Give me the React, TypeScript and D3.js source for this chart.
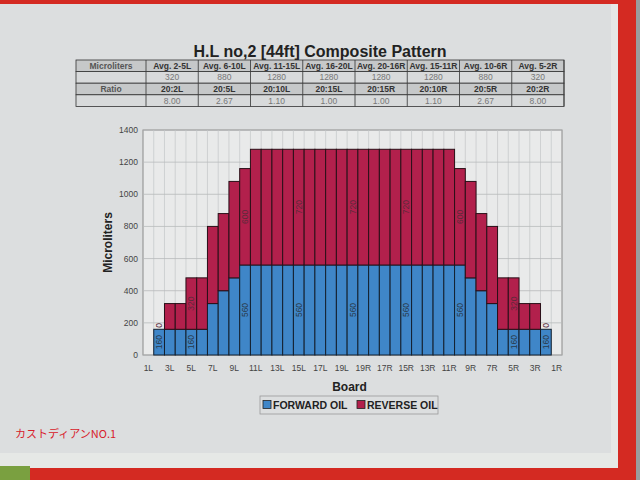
import React from "react";
import * as d3 from "d3";

const boards = [
  "1L","2L","3L","4L","5L","6L","7L","8L","9L","10L",
  "11L","12L","13L","14L","15L","16L","17L","18L","19L","20",
  "19R","18R","17R","16R","15R","14R","13R","12R","11R","10R",
  "9R","8R","7R","6R","5R","4R","3R","2R","1R",
];
const forwardOil = [
  0,160,160,160,160,160,320,400,480,560,
  560,560,560,560,560,560,560,560,560,560,
  560,560,560,560,560,560,560,560,560,560,
  480,400,320,160,160,160,160,160,0,
];
const reverseOil = [
  0,0,160,160,320,320,480,480,600,600,
  720,720,720,720,720,720,720,720,720,720,
  720,720,720,720,720,720,720,720,720,600,
  600,480,480,320,320,160,160,0,0,
];
const labelledBoards = ["2L","5L","10L","15L","20","15R","10R","5R","2R"];
const tickBoards = ["1L","3L","5L","7L","9L","11L","13L","15L","17L","19L","19R","17R","15R","13R","11R","9R","7R","5R","3R","1R"];
const yTicks = [0,200,400,600,800,1000,1200,1400];

const tableHeads = ["Avg. 2-5L","Avg. 6-10L","Avg. 11-15L","Avg. 16-20L","Avg. 20-16R","Avg. 15-11R","Avg. 10-6R","Avg. 5-2R"];
const tableMicro = ["320","880","1280","1280","1280","1280","880","320"];
const tableRatioHeads = ["20:2L","20:5L","20:10L","20:15L","20:15R","20:10R","20:5R","20:2R"];
const tableRatio = ["8.00","2.67","1.10","1.00","1.00","1.10","2.67","8.00"];

const BLUE = "#3f86c8";
const RED = "#b2204c";
const FONT = "Liberation Sans, Arial, sans-serif";

export default function App() {
  const left = 143, right = 562, top = 130, bottom = 355;
  const x = d3.scaleBand<string>().domain(boards).range([left, right]).padding(0);
  const y = d3.scaleLinear().domain([0, 1400]).range([bottom, top]);
  const bw = x.bandwidth();

  const tX0 = 76, tCol0 = 146, tX1 = 564, tY0 = 60, rowH = 11.6;
  const colW = (tX1 - tCol0) / tableHeads.length;
  const rows = [
    { label: "Microliters", cells: tableHeads, head: true },
    { label: "", cells: tableMicro, head: false },
    { label: "Ratio", cells: tableRatioHeads, head: true },
    { label: "", cells: tableRatio, head: false },
  ];

  return (
    <svg width={640} height={480} style={{ position: "absolute", left: 0, top: 0 }} fontFamily={FONT}>
      {/* photo frame */}
      <rect x={0} y={0} width={640} height={480} fill="#9a9c9e" />
      <rect x={0} y={0} width={636} height={480} fill="#d42a22" />
      <rect x={0} y={4} width={618} height={464} fill="#e6e8e6" />
      <rect x={0} y={4} width={611} height={449} fill="#dcdedf" />
      <rect x={0} y={466} width={30} height={14} fill="#7aa040" />

      {/* title */}
      <text x={320} y={57} textAnchor="middle" fontSize={16} fontWeight="bold" fill="#222">
        H.L no,2 [44ft] Composite Pattern
      </text>

      {/* table */}
      {rows.map((r, ri) => (
        <g key={ri}>
          <rect x={tX0} y={tY0 + ri * rowH} width={tX1 - tX0} height={rowH}
            fill={r.head ? "#c6c8c9" : "#d8dadb"} stroke="#333" strokeWidth={0.8} />
          <line x1={tCol0} x2={tCol0} y1={tY0 + ri * rowH} y2={tY0 + (ri + 1) * rowH} stroke="#333" strokeWidth={0.8} />
          <text x={(tX0 + tCol0) / 2} y={tY0 + ri * rowH + 8.6} textAnchor="middle" fontSize={8.5}
            fontWeight="bold" fill="#555">{r.label}</text>
          {r.cells.map((c, ci) => (
            <g key={ci}>
              <line x1={tCol0 + (ci + 1) * colW} x2={tCol0 + (ci + 1) * colW}
                y1={tY0 + ri * rowH} y2={tY0 + (ri + 1) * rowH} stroke="#333" strokeWidth={0.8} />
              <text x={tCol0 + (ci + 0.5) * colW} y={tY0 + ri * rowH + 8.8} textAnchor="middle"
                fontSize={8.5} fontWeight={r.head ? "bold" : "normal"}
                fill={r.head ? "#333" : "#777"}>{c}</text>
            </g>
          ))}
        </g>
      ))}

      {/* plot area */}
      <rect x={left} y={top} width={right - left} height={bottom - top} fill="#e9eaea" stroke="#8a8a8a" strokeWidth={1} />
      {boards.map((b, i) => i > 0 ? (
        <line key={"vg" + b} x1={x(b)!} x2={x(b)!} y1={top} y2={bottom} stroke="#c8cacb" strokeWidth={0.8} />
      ) : null)}
      {yTicks.map(t => (
        <line key={"hg" + t} x1={left} x2={right} y1={y(t)} y2={y(t)} stroke="#b8babb" strokeWidth={0.8} />
      ))}

      {/* bars */}
      {boards.map((b, i) => (
        <g key={"bar" + b}>
          {forwardOil[i] > 0 && (
            <rect x={x(b)!} y={y(forwardOil[i])} width={bw} height={y(0) - y(forwardOil[i])}
              fill={BLUE} stroke="#14202e" strokeWidth={1} />
          )}
          {reverseOil[i] > 0 && (
            <rect x={x(b)!} y={y(forwardOil[i] + reverseOil[i])} width={bw}
              height={y(forwardOil[i]) - y(forwardOil[i] + reverseOil[i])}
              fill={RED} stroke="#2a1018" strokeWidth={1} />
          )}
        </g>
      ))}

      {/* data labels */}
      {boards.map((b, i) => {
        if (!labelledBoards.includes(b)) return null;
        const cx = x(b)! + bw / 2 + 3;
        const fy = y(forwardOil[i] / 2);
        const ry = reverseOil[i] > 0 ? y(forwardOil[i] + reverseOil[i] / 2) : y(forwardOil[i]) - 4;
        return (
          <g key={"lab" + b} fontSize={8.5} fill="#2a3a4a">
            <text transform={`translate(${cx},${fy}) rotate(-90)`} textAnchor="middle">{forwardOil[i]}</text>
            <text transform={`translate(${cx},${ry}) rotate(-90)`} textAnchor="middle" fill="#5a2a3a">{reverseOil[i]}</text>
          </g>
        );
      })}

      {/* y axis */}
      {yTicks.map(t => (
        <text key={"yt" + t} x={138} y={y(t) + 3} textAnchor="end" fontSize={8.5} fill="#444">{t}</text>
      ))}
      <text transform={`translate(112,${(top + bottom) / 2}) rotate(-90)`} textAnchor="middle"
        fontSize={12} fontWeight="bold" fill="#222">Microliters</text>

      {/* x axis */}
      {tickBoards.map(b => (
        <text key={"xt" + b} x={x(b)! + bw / 2} y={371} textAnchor="middle" fontSize={8.5} fill="#444">{b}</text>
      ))}
      <text x={(left + right) / 2 - 3} y={391} textAnchor="middle" fontSize={12} fontWeight="bold" fill="#222">Board</text>

      {/* legend */}
      <rect x={260} y={396} width={178} height={18} fill="#dcdedf" stroke="#999" strokeWidth={0.8} />
      <rect x={263} y={400.5} width={8} height={8} fill={BLUE} stroke="#222" strokeWidth={0.8} />
      <text x={273} y={409} fontSize={10.5} fontWeight="bold" fill="#222">FORWARD OIL</text>
      <rect x={357} y={400.5} width={8} height={8} fill={RED} stroke="#222" strokeWidth={0.8} />
      <text x={367} y={409} fontSize={10.5} fontWeight="bold" fill="#222">REVERSE OIL</text>

      {/* handwritten note */}
      <text x={15} y={438} fontSize={11} fill="#d8202a" fontFamily="Noto Sans CJK JP">カストディアンNO.1</text>
    </svg>
  );
}
